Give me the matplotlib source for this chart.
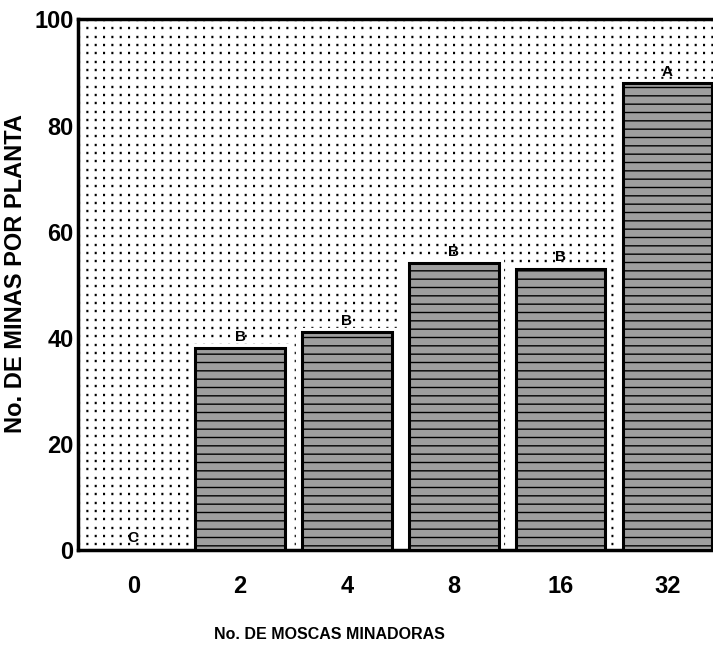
import numpy as np
import matplotlib.pyplot as plt

plt.rcParams['font.family'] = ['Liberation Sans', 'DejaVu Sans']
plt.rcParams['font.weight'] = 'bold'
plt.rcParams['axes.labelweight'] = 'bold'
plt.rcParams['lines.scale_dashes'] = False
plt.rcParams['hatch.color'] = '#7c7c7c'
plt.rcParams['hatch.linewidth'] = 1.0

# Minas por planta segun el numero de moscas liberadas
moscas = ['0', '2', '4', '8', '16', '32']
minas = [0, 38, 41, 54, 53, 88]
letras = ['C', 'B', 'B', 'B', 'B', 'A']
yticks = [0, 20, 40, 60, 80, 100]

fig = plt.figure(figsize=(7.13, 6.49), dpi=100)
ax = fig.add_axes([0.109, 0.153, 0.905, 0.817])

x = np.arange(len(moscas))
ax.set_xlim(-0.52, len(moscas) - 0.48)
ax.set_ylim(0, 100)

# fondo punteado
for yy in np.arange(1.0, 100, 1.57):
    ax.axhline(yy, color='black', lw=1.7, linestyle=(0, (1.5, 4.5)), zorder=0)

ax.bar(x, minas, width=0.87, color='white', edgecolor='white',
       linewidth=6, zorder=2)
ax.bar(x, minas, width=0.84, color='#9e9e9e', edgecolor='black',
       linewidth=2.2, hatch='--', zorder=3)

for xi, v, l in zip(x, minas, letras):
    ax.text(xi, v + 0.8, l, ha='center', va='bottom', fontsize=11,
            fontweight='bold', zorder=4)

ax.set_xticks(x)
ax.set_xticklabels(moscas, fontsize=17)
ax.set_yticks(yticks)
ax.set_yticklabels([str(t) for t in yticks], fontsize=17)
ax.tick_params(length=0)
ax.tick_params(axis='x', pad=18)
ax.tick_params(axis='y', pad=3)

for side in ['top', 'left', 'bottom']:
    ax.spines[side].set_linewidth(2.5)
ax.spines['right'].set_visible(False)

ax.set_xlabel('No. DE MOSCAS MINADORAS', fontsize=11.5)
ax.xaxis.set_label_coords(0.39, -0.145)
ax.set_ylabel('No. DE MINAS POR PLANTA', fontsize=17)
ax.yaxis.set_label_coords(-0.078, 0.52)

fig.savefig('out.png', dpi=100)
